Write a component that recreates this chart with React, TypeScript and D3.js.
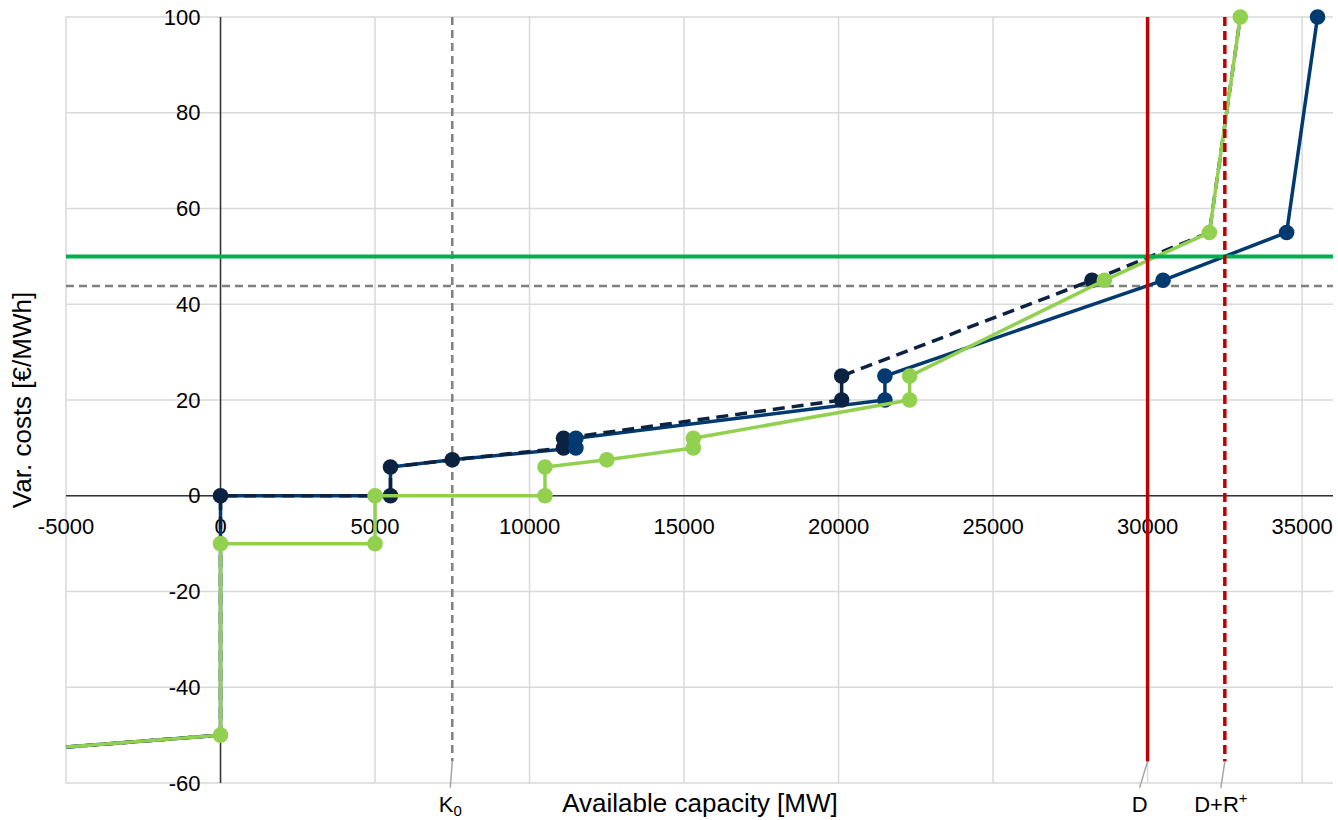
import React, { useEffect, useRef } from 'react';
import * as d3 from 'd3';

// merit order curves: [capacity MW, var. cost €/MWh]
const navyCurve: [number, number][] = [
  [-5000, -52.5], [0, -50], [0, 0], [5500, 0], [5500, 6], [7500, 7.5],
  [11100, 10], [11100, 12], [20100, 20], [20100, 25], [28200, 45], [32000, 55], [33000, 100],
];
const blueCurve: [number, number][] = [
  [-5000, -52.5], [0, -50], [0, 0], [5500, 0], [5500, 6], [7500, 7.5],
  [11500, 10], [11500, 12], [21500, 20], [21500, 25], [30500, 45], [34500, 55], [35500, 100],
];
const greenCurve: [number, number][] = [
  [-5000, -52.5], [0, -50], [0, -10], [5000, -10], [5000, 0], [10500, 0], [10500, 6],
  [12500, 7.5], [15300, 10], [15300, 12], [22300, 20], [22300, 25], [28600, 45], [32000, 55], [33000, 100],
];
// markers drawn only where the chart shows them
const navyMarkers: [number, number][] = [
  [0, 0], [5500, 0], [5500, 6], [7500, 7.5], [11100, 10], [11100, 12], [20100, 20], [20100, 25], [28200, 45],
];
const blueMarkers: [number, number][] = [
  [11500, 10], [11500, 12], [21500, 20], [21500, 25], [30500, 45], [34500, 55], [35500, 100],
];
const greenMarkers: [number, number][] = [
  [0, -50], [0, -10], [5000, -10], [5000, 0], [10500, 0], [10500, 6], [12500, 7.5],
  [15300, 10], [15300, 12], [22300, 20], [22300, 25], [28600, 45], [32000, 55], [33000, 100],
];

const xTicks = [-5000, 0, 5000, 10000, 15000, 20000, 25000, 30000, 35000];
const yTicks = [-60, -40, -20, 0, 20, 40, 60, 80, 100];

const priceLine = 50; // green horizontal
const clearingPrice = 43.8; // grey dashed horizontal
const k0 = 7500;
const demand = 30000;
const demandReserve = 32500;
const vLineBottom = -55.5;
const leaderBottom = -61;

const W = 1338;
const H = 820;
const FONT = '"Liberation Sans", Arial, sans-serif';

export default function App() {
  const svgRef = useRef<SVGSVGElement>(null);

  useEffect(() => {
    document.body.style.margin = '0';
    const svg = d3.select(svgRef.current);
    svg.selectAll('*').remove();

    const x = d3.scaleLinear().domain([-5000, 36000]).range([66, 1333]);
    const y = d3.scaleLinear().domain([-60, 100]).range([783, 17]);

    const g = svg.append('g');

    // grid
    g.selectAll('.vgrid').data(xTicks).enter().append('line')
      .attr('x1', d => x(d)).attr('x2', d => x(d))
      .attr('y1', y(100)).attr('y2', y(-60))
      .attr('stroke', '#d9d9d9').attr('stroke-width', 1.5);
    g.selectAll('.hgrid').data(yTicks).enter().append('line')
      .attr('x1', x(-5000)).attr('x2', x(36000))
      .attr('y1', d => y(d)).attr('y2', d => y(d))
      .attr('stroke', '#d9d9d9').attr('stroke-width', 1.5);

    // axes lines
    g.append('line').attr('x1', x(-5000)).attr('x2', x(36000))
      .attr('y1', y(0)).attr('y2', y(0)).attr('stroke', '#333').attr('stroke-width', 1.5);
    g.append('line').attr('x1', x(0)).attr('x2', x(0))
      .attr('y1', y(100)).attr('y2', y(-60)).attr('stroke', '#333').attr('stroke-width', 1.5);

    // tick labels
    g.selectAll('.ylab').data(yTicks).enter().append('text')
      .attr('x', x(0) - 20).attr('y', d => y(d)).attr('dy', '0.35em')
      .attr('text-anchor', 'end').style('font-family', FONT).style('font-size', '22px')
      .attr('fill', '#000').text(d => d);
    g.selectAll('.xlab').data(xTicks).enter().append('text')
      .attr('x', d => x(d)).attr('y', y(0) + 38)
      .attr('text-anchor', 'middle').style('font-family', FONT).style('font-size', '22px')
      .attr('fill', '#000').text(d => d);

    // axis titles
    g.append('text')
      .attr('transform', `translate(31,${y(20)}) rotate(-90)`)
      .attr('text-anchor', 'middle').style('font-family', FONT).style('font-size', '26px')
      .text('Var. costs [€/MWh]');
    g.append('text')
      .attr('x', 700).attr('y', 812)
      .attr('text-anchor', 'middle').style('font-family', FONT).style('font-size', '26px')
      .text('Available capacity [MW]');

    // reference lines
    g.append('line').attr('x1', x(-5000)).attr('x2', x(36000))
      .attr('y1', y(clearingPrice)).attr('y2', y(clearingPrice))
      .attr('stroke', '#808080').attr('stroke-width', 2.5).attr('stroke-dasharray', '8 5');
    g.append('line').attr('x1', x(k0)).attr('x2', x(k0))
      .attr('y1', y(100)).attr('y2', y(vLineBottom))
      .attr('stroke', '#808080').attr('stroke-width', 2.5).attr('stroke-dasharray', '8 5');

    const lineGen = d3.line<[number, number]>().x(d => x(d[0])).y(d => y(d[1]));

    g.append('path').datum(blueCurve).attr('d', lineGen)
      .attr('fill', 'none').attr('stroke', '#003a70').attr('stroke-width', 3.5);
    g.append('path').datum(navyCurve).attr('d', lineGen)
      .attr('fill', 'none').attr('stroke', '#0b2341').attr('stroke-width', 3.5)
      .attr('stroke-dasharray', '12 7');
    g.selectAll('.nm').data(navyMarkers).enter().append('circle')
      .attr('cx', d => x(d[0])).attr('cy', d => y(d[1])).attr('r', 7.8).attr('fill', '#0b2341');
    g.selectAll('.bm').data(blueMarkers).enter().append('circle')
      .attr('cx', d => x(d[0])).attr('cy', d => y(d[1])).attr('r', 7.8).attr('fill', '#003a70');

    g.append('path').datum(greenCurve).attr('d', lineGen)
      .attr('fill', 'none').attr('stroke', '#92d050').attr('stroke-width', 3.5);
    g.selectAll('.gm').data(greenMarkers).enter().append('circle')
      .attr('cx', d => x(d[0])).attr('cy', d => y(d[1])).attr('r', 7.8).attr('fill', '#92d050');

    // green price line
    g.append('line').attr('x1', x(-5000)).attr('x2', x(36000))
      .attr('y1', y(priceLine)).attr('y2', y(priceLine))
      .attr('stroke', '#00b050').attr('stroke-width', 4);

    // demand lines
    g.append('line').attr('x1', x(demand)).attr('x2', x(demand))
      .attr('y1', y(100)).attr('y2', y(vLineBottom))
      .attr('stroke', '#c00000').attr('stroke-width', 3.5);
    g.append('line').attr('x1', x(demandReserve)).attr('x2', x(demandReserve))
      .attr('y1', y(100)).attr('y2', y(vLineBottom))
      .attr('stroke', '#c00000').attr('stroke-width', 3.5).attr('stroke-dasharray', '9 5');

    // leader lines and labels
    const labels = [
      { v: k0, dx: -2, text: 'K', sub: '0', sup: '' },
      { v: demand, dx: -8, text: 'D', sub: '', sup: '' },
      { v: demandReserve, dx: -4, text: 'D+R', sub: '', sup: '+' },
    ];
    labels.forEach(l => {
      g.append('line')
        .attr('x1', x(l.v)).attr('x2', x(l.v) + l.dx)
        .attr('y1', y(vLineBottom)).attr('y2', y(leaderBottom))
        .attr('stroke', '#a6a6a6').attr('stroke-width', 1.5);
      const t = g.append('text')
        .attr('x', x(l.v) + l.dx).attr('y', 812)
        .attr('text-anchor', 'middle').style('font-family', FONT).style('font-size', '22px')
        .text(l.text);
      if (l.sub) t.append('tspan').attr('dy', 4).style('font-size', '15px').text(l.sub);
      if (l.sup) t.append('tspan').attr('dy', -9).style('font-size', '15px').text(l.sup);
    });
  }, []);

  return <svg ref={svgRef} width={W} height={H} style={{ display: 'block', background: '#fff' }} />;
}
